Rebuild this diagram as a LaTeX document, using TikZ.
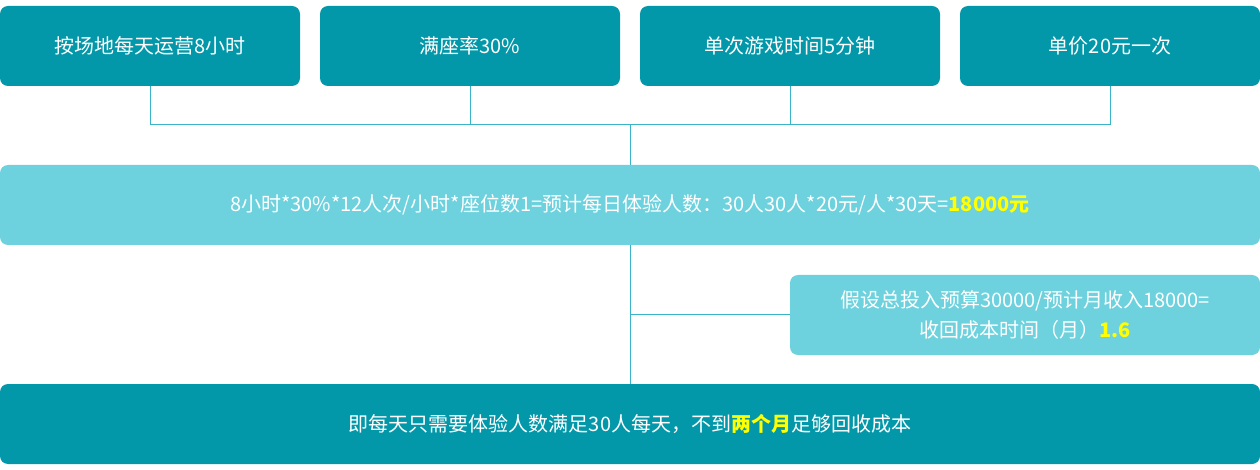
\documentclass[tikz,border=0pt]{standalone}
\usepackage{fontspec}
\setmainfont{Noto Sans CJK SC}
\usetikzlibrary{calc}
\definecolor{dark}{HTML}{0398A9}
\definecolor{light}{HTML}{6DD2DE}
\definecolor{wire}{HTML}{3AB4C8}
\definecolor{hi}{HTML}{FFFF00}
\newcommand{\hl}[1]{{\bfseries\color{hi}#1}}
\begin{document}
\begin{tikzpicture}[x=0.75pt,y=-0.75pt,
  box/.style={rounded corners=6pt,inner sep=0pt,text=white,
    font=\fontsize{15pt}{22.5pt}\selectfont,align=center},
  topbox/.style={box,fill=dark,minimum width=225pt,minimum height=60pt},
  widebar/.style={box,minimum width=945pt,minimum height=60pt},
  wire/.style={draw=wire,line width=0.75pt}]
\useasboundingbox (0,0) rectangle (1260,470);
\node[topbox] (b1) at (150,46) {按场地每天运营8小时};
\node[topbox] (b2) at (470,46) {满座率30\%};
\node[topbox] (b3) at (790,46) {单次游戏时间5分钟};
\node[topbox] (b4) at (1110,46) {单价20元一次};
\node[widebar,fill=light] (mid) at (630,205) {8小时*30\%*12人次/小时*座位数1=预计每日体验人数：30人30人*20元/人*30天=\hl{18000元}};
\node[box,fill=light,minimum width=352.5pt,minimum height=60pt] (side) at (1025,315) {假设总投入预算30000/预计月收入18000=\\收回成本时间（月）\hl{1.6}};
\node[widebar,fill=dark] (bot) at (630,424) {即每天只需要体验人数满足30人每天，不到\hl{两个月}足够回收成本};
\coordinate (j) at (630,125);
\draw[wire] (b1.south) |- (j);
\draw[wire] (b4.south) |- (j);
\draw[wire] (b2.south) -- (b2.south |- j);
\draw[wire] (b3.south) -- (b3.south |- j);
\draw[wire] (j) -- (mid.north);
\draw[wire] (mid.south) -- (bot.north);
\draw[wire] (side.west) -- (side.west -| mid.south);
\end{tikzpicture}
\end{document}
